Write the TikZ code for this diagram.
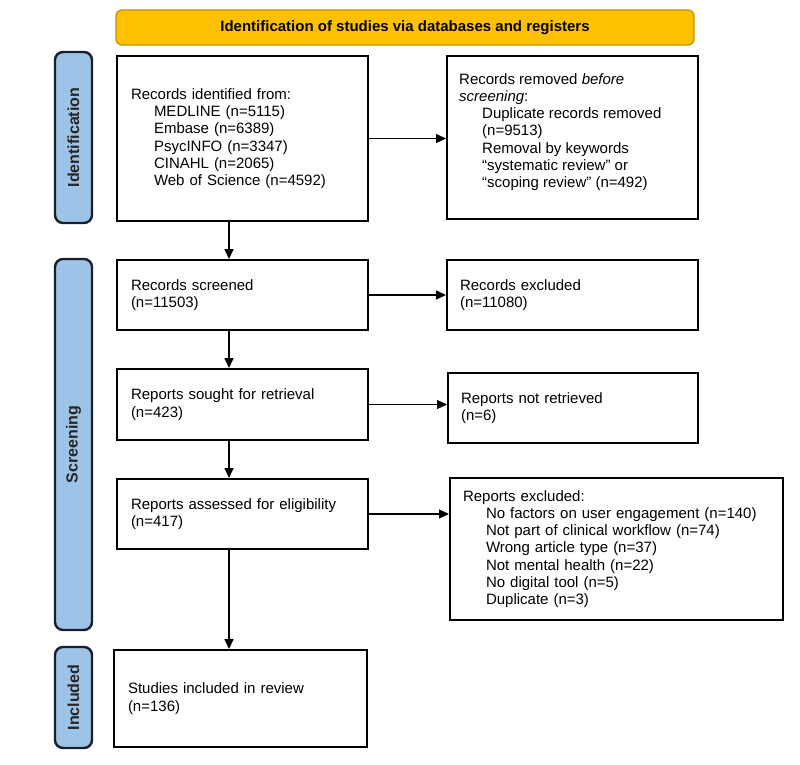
\documentclass[tikz,border=0pt]{standalone}
\usepackage{fontspec}
\setmainfont{Liberation Sans}
\usetikzlibrary{arrows.meta,calc}
\definecolor{bluefill}{RGB}{157,195,230}
\definecolor{blueedge}{RGB}{25,30,45}
\definecolor{gold}{RGB}{255,192,0}
\definecolor{goldedge}{RGB}{191,144,0}
\begin{document}
\begin{tikzpicture}[x=1pt,y=-1pt,
  box/.style={draw=black, line width=2pt, fill=white, align=left,
    font=\fontsize{15}{17.25}\selectfont, inner xsep=14pt, inner ysep=0pt,
    anchor=north west},
  txt/.style={align=left, font=\fontsize{15}{17.25}\selectfont, inner sep=0pt},
  side/.style={draw=blueedge, fill=bluefill, line width=2.4pt, rounded corners=8pt,
    rotate=90, inner sep=0pt, minimum height=37pt,
    font=\bfseries\fontsize{16}{19}\selectfont, text=black!85},
  banner/.style={draw=goldedge, fill=gold, line width=1.2pt, rounded corners=6pt,
    minimum width=578pt, minimum height=35pt, inner sep=0pt,
    font=\bfseries\fontsize{15}{18}\selectfont},
  arr/.style={line width=1.6pt, -{Triangle[length=10pt,width=9pt]}},
  thinarr/.style={arr, line width=1.1pt}]
\useasboundingbox (0,0) rectangle (800,765);
\fill[white] (0,0) rectangle (800,765);

% banner
\node[banner] (ban) at (405,27.5) {Identification of studies via databases and registers};

% side labels
\node[side, minimum width=171pt] (lid) at (73.5,137.5) {Identification};
\node[side, minimum width=371pt] (lsc) at (73.5,444.5) {Screening};
\node[side, minimum width=101pt] (lin) at (73.5,697.5) {Included};

% left column
\node[box, text width=223pt, minimum height=165pt] (b1) at (116,55)
  {Records identified from:\\
   \hspace*{23pt}MEDLINE (n=5115)\\
   \hspace*{23pt}Embase (n=6389)\\
   \hspace*{23pt}PsycINFO (n=3347)\\
   \hspace*{23pt}CINAHL (n=2065)\\
   \hspace*{23pt}Web of Science (n=4592)};
\node[box, text width=223pt, minimum height=70pt] (scr) at (116,259)
  {Records screened\\(n=11503)};
\node[box, text width=223pt, minimum height=71pt] (sou) at (116,368)
  {Reports sought for retrieval\\(n=423)};
\node[box, text width=223pt, minimum height=70pt] (ass) at (116,478)
  {Reports assessed for eligibility\\(n=417)};
\node[box, text width=225pt, minimum height=97pt] (inc) at (113,649)
  {Studies included in review\\(n=136)};

% right column
\node[box, inner xsep=13pt, text width=225pt, minimum height=163pt] (rem) at (446,55) {};
\node[txt, anchor=north west] (remt) at ($(rem.north west)+(13,18)$)
  {Records removed \textit{before}\\
   \textit{screening}:\\
   \hspace*{23pt}Duplicate records removed\\
   \hspace*{23pt}(n=9513)\\
   \hspace*{23pt}Removal by keywords\\
   \hspace*{23pt}“systematic review” or\\
   \hspace*{23pt}“scoping review” (n=492)};
\node[box, inner xsep=13pt, text width=225pt, minimum height=70pt] (exc) at (446,259)
  {Records excluded\\(n=11080)};
\node[box, inner xsep=13pt, text width=224pt, minimum height=70pt] (nrt) at (447,372)
  {Reports not retrieved\\(n=6)};
\node[box, inner xsep=13pt, text width=307pt, minimum height=142pt] (rex) at (449,477)
  {Reports excluded:\\
   \hspace*{23pt}No factors on user engagement (n=140)\\
   \hspace*{23pt}Not part of clinical workflow (n=74)\\
   \hspace*{23pt}Wrong article type (n=37)\\
   \hspace*{23pt}Not mental health (n=22)\\
   \hspace*{23pt}No digital tool (n=5)\\
   \hspace*{23pt}Duplicate (n=3)};

% connectors
\coordinate (ax) at (229,0);
\draw[arr] (b1.south -| ax) -- (scr.north -| ax);
\draw[arr] (scr.south -| ax) -- (sou.north -| ax);
\draw[arr] (sou.south -| ax) -- (ass.north -| ax);
\draw[arr] (ass.south -| ax) -- (inc.north -| ax);
\draw[thinarr] (b1.east) -- (b1.east -| rem.west);
\draw[arr] (scr.east) -- (scr.east -| exc.west);
\draw[thinarr] (sou.east) -- (sou.east -| nrt.west);
\draw[thinarr] (ass.east) -- (ass.east -| rex.west);
\end{tikzpicture}
\end{document}
